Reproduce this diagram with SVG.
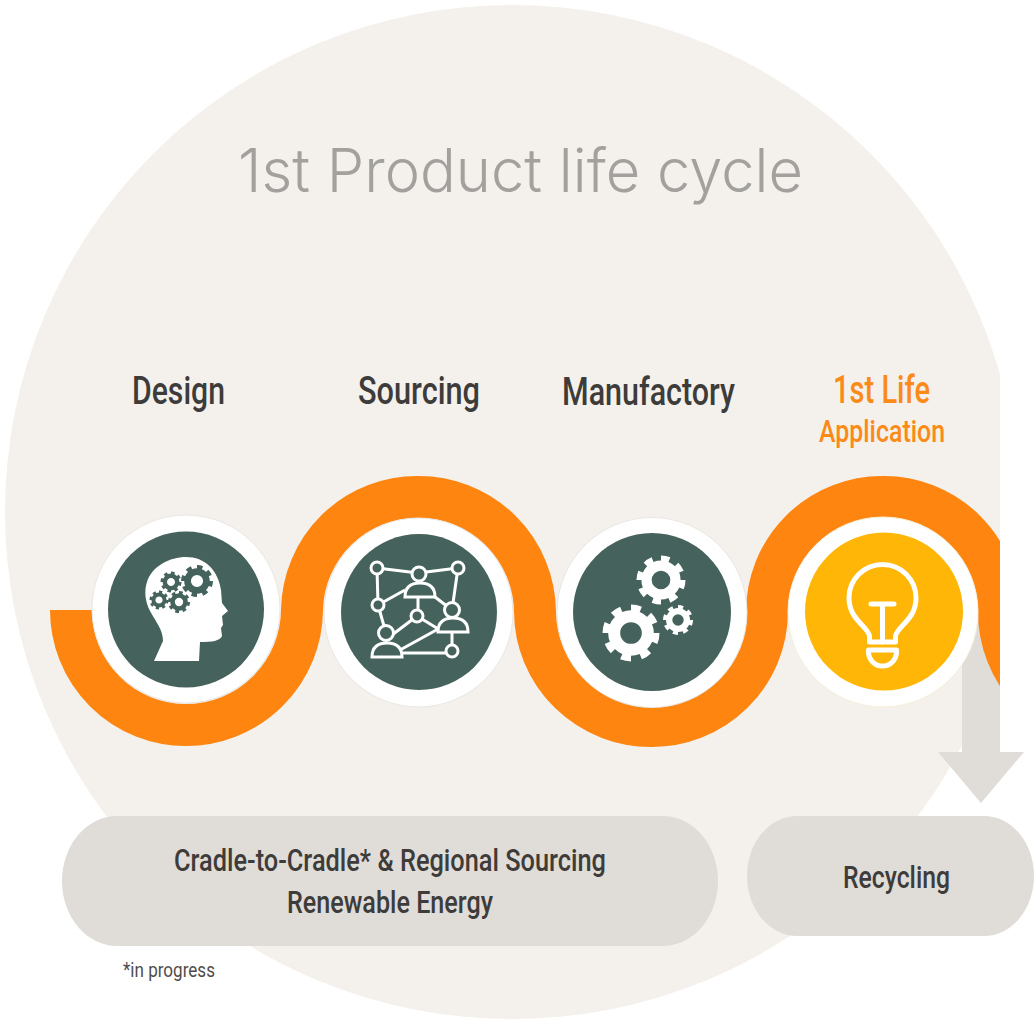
<svg xmlns="http://www.w3.org/2000/svg" xmlns:xlink="http://www.w3.org/1999/xlink" width="1034" height="1022" viewBox="0 0 1034 1022">
<style>
text{font-family:Roboto,"Liberation Sans",sans-serif;font-weight:500;fill:#3e3c3a;text-anchor:start}
.lab{font-size:38px}
.or{fill:#fb8a17}
.pill{fill:#e0dcd7}
.ring{fill:#fff;stroke:#e9e7e4;stroke-width:1}
.dark{fill:#45635c}
.ln{fill:none;stroke:#fff;stroke-width:3;stroke-linejoin:round}
.node{fill:#45635c;stroke:#fff;stroke-width:3}
.bl{fill:none;stroke:#fff;stroke-width:5;stroke-linejoin:round;stroke-linecap:round}
</style>
<defs>
<clipPath id="cut"><rect x="0" y="0" width="1000" height="1022"/></clipPath>
<g id="gw"><circle r="5.9" fill="none" stroke="#fff" stroke-width="4.2"/><circle r="8.6" fill="none" stroke="#fff" stroke-width="2.8" pathLength="16" stroke-dasharray="1 1"/></g>
<g id="gd"><circle r="5.9" fill="none" stroke="#45635c" stroke-width="4.2"/><circle r="8.6" fill="none" stroke="#45635c" stroke-width="2.8" pathLength="16" stroke-dasharray="1 1"/></g>
</defs>
<rect width="1034" height="1022" fill="#fff"/>
<circle id="backdrop" cx="512" cy="512" r="507" fill="#f4f1ed" clip-path="url(#cut)"/>
<text id="title" x="238" y="192" font-size="60" textLength="565" lengthAdjust="spacingAndGlyphs" style="font-family:Inter,'Noto Sans',sans-serif;font-weight:300;fill:#a3a19e">1st Product life cycle</text>
<g id="connectors">
<path class="pill" d="M962 620H1000V752H1024L981 803L938 752H962Z"/>
<path clip-path="url(#cut)" fill="none" stroke="#fe8510" stroke-width="42" d="M71 610A115 115 0 0 0 186 725A116 116 0 0 0 302 610A115 115 0 0 1 418 497A116 116 0 0 1 535 612A116 115 0 0 0 652 726A115 115 0 0 0 767 612A115 115 0 0 1 883 497A115 115 0 0 1 999 612A115 115 0 0 0 1114 727"/>
</g>
<g id="design">
<text class="lab" x="132" y="404" textLength="93" lengthAdjust="spacingAndGlyphs">Design</text>
<circle class="ring" cx="186" cy="609" r="94"/>
<circle class="dark" cx="186" cy="609.500" r="78"/>
<path fill="#fff" d="M154 661L163 641C163 630 156 622 150 611C145 602 144 590 147 582C152 566 170 557 186 557C205 557 218 570 221 590L222 603L228 611L222 616L223 625L221 628L222 636C220 641 212 642 200 642L199 661Z"/>
<use xlink:href="#gd" href="#gd" transform="translate(197 581) scale(1.6)"/>
<use xlink:href="#gd" href="#gd" transform="translate(171 582) scale(1.05)"/>
<use xlink:href="#gd" href="#gd" transform="translate(159 600) scale(.95)"/>
<use xlink:href="#gd" href="#gd" transform="translate(179 602) scale(1.1)"/>
</g>
<g id="sourcing">
<text class="lab" x="358" y="404" textLength="122" lengthAdjust="spacingAndGlyphs">Sourcing</text>
<circle class="ring" cx="418.500" cy="612.500" r="94.500"/>
<circle class="dark" cx="419" cy="612" r="78"/>
<path class="ln" d="M377 568L418 573L458 568L452 610M377 568L378 605L405 590M378 605L386 633M418 597V616M435 597L452 610M417 616L392 635M417 616L440 630M400 650L440 628M402 653H452M452 632V651"/>
<circle class="node" cx="377" cy="568" r="6"/><circle class="node" cx="458" cy="568" r="6"/><circle class="node" cx="378" cy="605" r="6"/><circle class="node" cx="417" cy="616" r="6"/><circle class="node" cx="452" cy="651" r="6"/>
<path class="node" d="M405 597C405 588 410 583 420 583C430 583 435 588 435 597Z"/><circle class="node" cx="419" cy="574" r="7"/>
<path class="node" d="M438 632C438 623 443 618 453 618C463 618 468 623 468 632Z"/><circle class="node" cx="452" cy="610" r="7.500"/>
<path class="node" d="M372 657C372 648 377 643 387 643C397 643 402 648 402 657Z"/><circle class="node" cx="386" cy="633" r="7.500"/>
</g>
<g id="manufactory">
<text class="lab" x="562" y="405" textLength="173" lengthAdjust="spacingAndGlyphs">Manufactory</text>
<circle class="ring" cx="652" cy="612.500" r="95"/>
<circle class="dark" cx="652" cy="612" r="79"/>
<use xlink:href="#gw" href="#gw" transform="translate(661 580) scale(2.45)"/>
<use xlink:href="#gw" href="#gw" transform="translate(631 633) scale(2.85)"/>
<use xlink:href="#gw" href="#gw" transform="translate(678 620) scale(1.5)"/>
</g>
<g id="first-life">
<text class="lab or" x="833" y="403" textLength="97" lengthAdjust="spacingAndGlyphs" style="fill:#fb8a17">1st Life</text>
<text x="819" y="442" font-size="31" textLength="126" lengthAdjust="spacingAndGlyphs" style="fill:#fb8a17">Application</text>
<circle class="ring" cx="883" cy="612" r="95" style="stroke:#f6efd8"/>
<circle cx="884" cy="611.500" r="79" fill="#ffb606"/>
<path class="bl" d="M869.500 642V636C868 626 849 620 849 598A33.500 33.500 0 1 1 916 598C916 620 897 626 895.500 636V642Z"/>
<path class="bl" d="M871 604H894M882.500 604V642"/>
<path class="bl" d="M868.500 650H896.500V652A14 14 0 0 1 868.500 652Z"/>
</g>
<g id="cradle">
<rect class="pill" x="62" y="816" width="656" height="130" rx="55" ry="65"/>
<text x="174" y="871" font-size="31" textLength="432" lengthAdjust="spacingAndGlyphs">Cradle-to-Cradle* &amp; Regional Sourcing</text>
<text x="287" y="913" font-size="31" textLength="206" lengthAdjust="spacingAndGlyphs">Renewable Energy</text>
</g>
<g id="recycling">
<rect class="pill" x="747" y="816" width="287" height="120" rx="50" ry="60"/>
<text x="843" y="888" font-size="31" textLength="107" lengthAdjust="spacingAndGlyphs">Recycling</text>
</g>
<text id="note" x="123" y="977" font-size="21" textLength="92" lengthAdjust="spacingAndGlyphs" style="fill:#4f4d4b;font-weight:400">*in progress</text>
</svg>
